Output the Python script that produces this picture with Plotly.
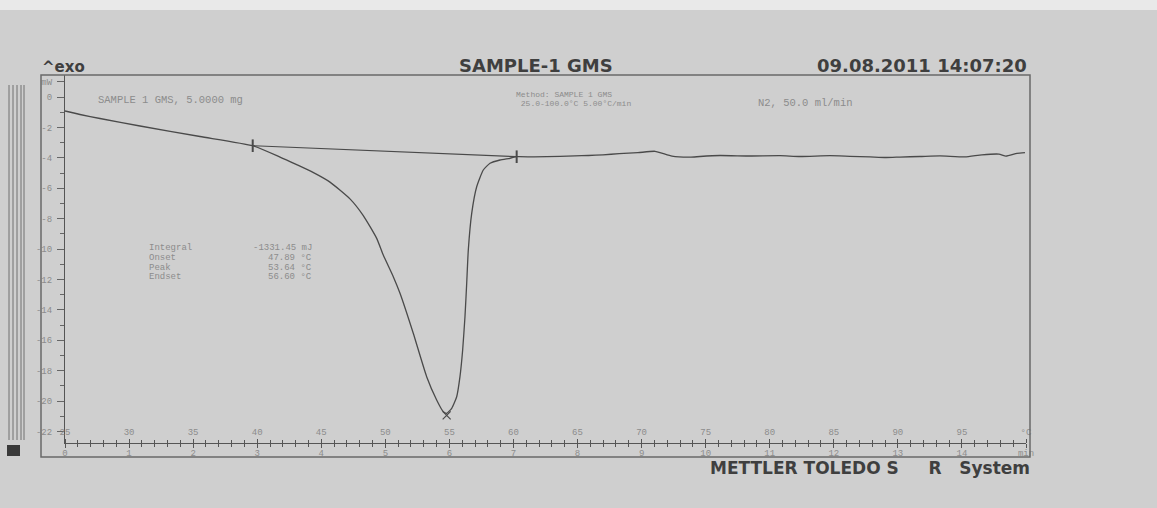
import plotly.graph_objects as go

# ---------------- data ----------------
time_min = [0.000, 0.234, 0.546, 1.171, 2.107, 2.930, 3.356, 3.616, 3.871, 4.136,
            4.448, 4.656, 4.865, 4.968, 5.124, 5.229, 5.436, 5.645, 5.801, 5.905,
            5.957, 6.036, 6.114, 6.165, 6.207, 6.243, 6.270, 6.295, 6.348, 6.426,
            6.529, 6.634, 6.790, 6.946, 7.050, 7.320, 7.726, 7.960, 8.170, 8.397,
            8.650, 8.943, 9.209, 9.474, 9.757, 9.911, 10.223, 10.692, 11.160, 11.472,
            11.940, 12.252, 12.565, 12.814, 13.032, 13.345, 13.657, 14.047, 14.312,
            14.578, 14.687, 14.859, 14.984]
heat_flow_mw = [-0.921, -1.151, -1.414, -1.908, -2.599, -3.204, -3.950, -4.450, -4.960, -5.600,
                -6.700, -7.800, -9.300, -10.400, -11.822, -12.914, -15.546, -18.401, -19.934, -20.704,
                -20.809, -20.480, -19.717, -18.401, -16.645, -14.454, -12.257, -10.066, -7.651, -5.901,
                -4.803, -4.362, -4.145, -4.033, -3.928, -3.941, -3.901, -3.868, -3.849, -3.803,
                -3.730, -3.664, -3.572, -3.895, -3.960, -3.914, -3.849, -3.882, -3.860, -3.914,
                -3.860, -3.901, -3.940, -3.980, -3.950, -3.914, -3.870, -3.941, -3.803,
                -3.757, -3.895, -3.711, -3.664]

baseline_t = [2.930, 7.050]
baseline_mw = [-3.204, -3.928]
peak_t = [5.957]
peak_mw = [-20.95]

time_ticks = list(range(0, 16))
time_labels = [str(v) for v in range(0, 15)] + ["min"]
temp_ticks = list(range(25, 101, 5))
temp_labels = [str(v) for v in range(25, 100, 5)] + ["°C"]
y_ticks = [1] + list(range(0, -23, -2))
y_labels = ["mW"] + [str(v) for v in range(0, -23, -2)]

result_labels = ["Integral", "Onset", "Peak", "Endset"]
result_values = ["-1331.45 mJ", "47.89 °C", "53.64 °C", "56.60 °C"]

title_text = "SAMPLE-1 GMS"
date_text = "09.08.2011 14:07:20"
sample_text = "SAMPLE 1 GMS, 5.0000 mg"
method_lines = ["Method: SAMPLE 1 GMS", " 25.0-100.0°C 5.00°C/min"]
gas_text = "N2, 50.0 ml/min"
footer_text = "METTLER TOLEDO S&nbsp;&nbsp;&nbsp;&nbsp;&nbsp;R&nbsp;&nbsp;&nbsp;System"

# ---------------- layout geometry (pixels) ----------------
W, H = 1157, 508
L, R, T, B = 41, 127, 75, 51
PW, PH = W - L - R, H - T - B
X0PX, X15PX = 65, 1026          # t = 0 and t = 15 min
AXPX = 443                      # y pixel of the x axis line
Y0PX, PXPER = 97, 15.2          # y pixel of 0 mW, pixels per mW

def fx(px):
    return (px - L) / PW

def fy(py):
    return (T + PH - py) / PH

y_bottom = -(AXPX - Y0PX) / PXPER
y_top = (Y0PX - T) / PXPER

INK = "#4a4a4a"
FAINT = "#8c8c8c"
BG = "#cfcfcf"
MONO = "Liberation Mono"
SANS = "DejaVu Sans"

fig = go.Figure()
fig.add_trace(go.Scatter(x=time_min, y=heat_flow_mw, mode="lines",
                         line=dict(color=INK, width=1.3, shape="spline", smoothing=0.5),
                         hoverinfo="skip", showlegend=False))
fig.add_trace(go.Scatter(x=baseline_t, y=baseline_mw, mode="lines+markers",
                         line=dict(color=INK, width=1.2),
                         marker=dict(symbol="line-ns", size=9, line=dict(color=INK, width=2)),
                         hoverinfo="skip", showlegend=False))
fig.add_trace(go.Scatter(x=peak_t, y=peak_mw, mode="markers",
                         marker=dict(symbol="x-thin", size=8, line=dict(color=INK, width=1.2)),
                         hoverinfo="skip", showlegend=False))
fig.add_trace(go.Scatter(x=[temp_ticks[0], temp_ticks[-1]], y=[0, 0], xaxis="x2", mode="lines",
                         opacity=0, line=dict(width=0), hoverinfo="skip", showlegend=False))

tickfont = dict(family=MONO, size=9, color=FAINT)

fig.update_layout(
    width=W, height=H,
    margin=dict(l=L, r=R, t=T, b=B, pad=0),
    paper_bgcolor=BG, plot_bgcolor=BG,
    xaxis=dict(domain=[fx(X0PX), fx(X15PX)], range=[0, 15], anchor="y",
               showgrid=False, zeroline=False, showline=True, linecolor="#555", linewidth=1.2,
               ticks="outside", ticklen=4, tickwidth=1, tickcolor="#555",
               tickmode="array", tickvals=time_ticks, ticktext=time_labels, tickfont=tickfont,
               ticklabelstandoff=-3,
               minor=dict(ticks="outside", ticklen=3, tickwidth=1, tickcolor="#555",
                          tickmode="linear", tick0=0, dtick=0.2, showgrid=False)),
    xaxis2=dict(overlaying="x", side="top", anchor="free", position=fy(AXPX),
                range=[25, 100], showgrid=False, zeroline=False, showline=False,
                ticks="outside", ticklen=4, tickwidth=1, tickcolor="#555",
                tickmode="array", tickvals=temp_ticks, ticktext=temp_labels, tickfont=tickfont,
                minor=dict(ticks="outside", ticklen=3, tickwidth=1, tickcolor="#555",
                           tickmode="linear", tick0=25, dtick=1, showgrid=False)),
    yaxis=dict(domain=[fy(AXPX), 1], range=[y_bottom, y_top], anchor="x",
               showgrid=False, zeroline=False, showline=True, linecolor="#555", linewidth=1.2,
               ticks="outside", ticklen=7, tickwidth=1, tickcolor="#666",
               tickmode="array", tickvals=y_ticks, ticktext=y_labels, tickfont=tickfont,
               ticklabelstandoff=3,
               minor=dict(ticks="outside", ticklen=4, tickwidth=1, tickcolor="#666",
                          tickmode="linear", tick0=0, dtick=1, showgrid=False)),
)

shapes = [
    dict(type="rect", xref="paper", yref="paper", x0=0, x1=1, y0=0, y1=1,
         line=dict(color="#6a6a6a", width=1.5)),
    dict(type="rect", xref="paper", yref="paper", x0=fx(0), x1=fx(W), y0=fy(10), y1=fy(0),
         line=dict(width=0), fillcolor="#e9e9e9", layer="below"),
]
for xp in [9, 13, 17, 21, 24]:
    shapes.append(dict(type="line", xref="paper", yref="paper", x0=fx(xp), x1=fx(xp),
                       y0=fy(440), y1=fy(85), line=dict(color="#707070", width=1)))
shapes.append(dict(type="rect", xref="paper", yref="paper", x0=fx(7), x1=fx(20),
                   y0=fy(456), y1=fy(445), line=dict(width=0), fillcolor="#3a3a3a"))
fig.update_layout(shapes=shapes)

ann = []
def add(text, xp, yp, xanchor="left", size=10, family=MONO, color=FAINT, align="left"):
    ann.append(dict(text=text, xref="paper", yref="paper", x=fx(xp), y=fy(yp),
                    xanchor=xanchor, yanchor="middle", showarrow=False, align=align,
                    font=dict(family=family, size=size, color=color)))

add("<b>^exo</b>", 40, 67, size=15, family=SANS, color="#3f3f3f")
add("<b>" + title_text + "</b>", 536, 65, xanchor="center", size=18, family=SANS, color="#3f3f3f")
add("<b>" + date_text + "</b>", 1029, 65, xanchor="right", size=18, family=SANS, color="#3f3f3f")
add("<b>" + footer_text + "</b>", 1032, 468, xanchor="right", size=17, family=SANS, color="#3f3f3f")
add(sample_text, 96, 100, size=10.5)
add(method_lines[0], 514, 94.5, size=8)
add(method_lines[1].replace(" ", "&nbsp;"), 514, 103.5, size=8)
add(gas_text, 756, 102.5, size=10.5)
row_y = [248, 258, 267.5, 277]
for lab, val, yy in zip(result_labels, result_values, row_y):
    add(lab, 147, yy, size=9)
    add(val, 314, yy, xanchor="right", size=9, align="right")
fig.update_layout(annotations=ann)

fig.write_html("out.html")
